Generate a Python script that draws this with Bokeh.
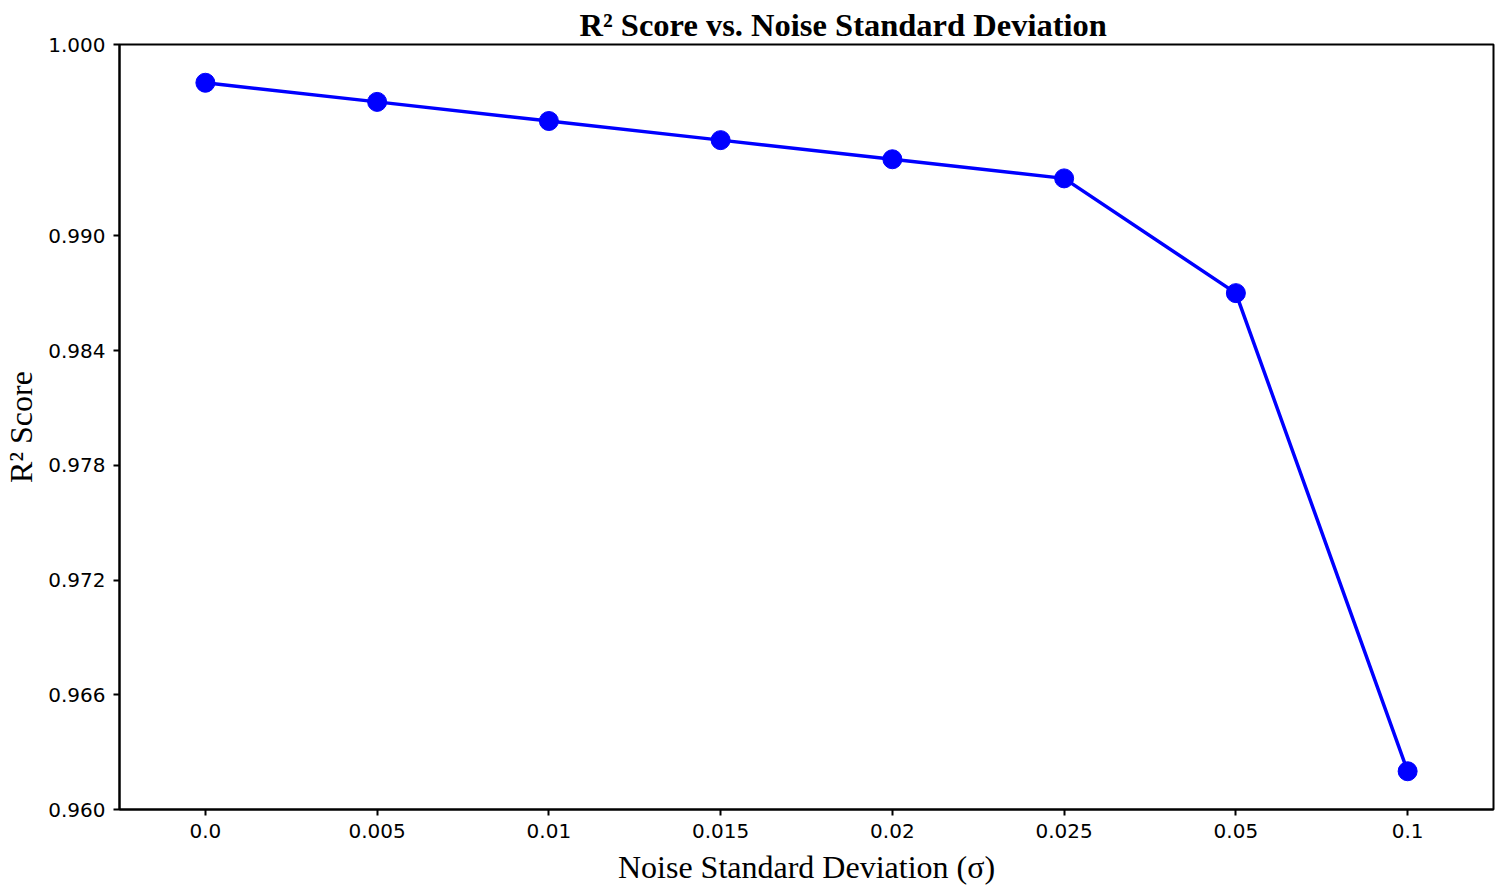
from bokeh.plotting import figure
from bokeh.models import FactorRange, Range1d, FixedTicker, PrintfTickFormatter
from bokeh.embed import file_html
from bokeh.resources import INLINE

noise_labels = ["0.0", "0.005", "0.01", "0.015", "0.02", "0.025", "0.05", "0.1"]
r2_scores = [0.998, 0.997, 0.996, 0.995, 0.994, 0.993, 0.987, 0.962]
y_ticks = [0.960, 0.966, 0.972, 0.978, 0.984, 0.990, 1.000]

p = figure(
    x_range=FactorRange(*noise_labels, range_padding=0),
    y_range=Range1d(0.960, 1.000),
    width=1498, height=889,
    min_border_left=118, min_border_right=5, min_border_top=44, min_border_bottom=80,
    output_backend="svg", toolbar_location=None,
    title="R\u00b2 Score vs. Noise Standard Deviation",
)

p.line(noise_labels, r2_scores, line_color="#0000ff", line_width=3.5)
p.scatter(noise_labels, r2_scores, size=19, fill_color="#0000ff", line_color="#0000ff")

p.title.text_font = "Liberation Serif"
p.title.text_font_size = "32.5px"
p.title.text_font_style = "bold"
p.title.text_color = "black"
p.title.align = "left"
p.title.standoff = 4
p.title.offset = 460

p.xgrid.visible = False
p.ygrid.visible = False
p.outline_line_color = "black"
p.outline_line_width = 2
p.outline_line_alpha = 1
p.background_fill_color = "white"
p.border_fill_color = "white"

p.yaxis.ticker = FixedTicker(ticks=y_ticks)
p.yaxis.formatter = PrintfTickFormatter(format="%.3f")

for ax in (p.xaxis[0], p.yaxis[0]):
    ax.axis_line_color = "black"
    ax.axis_line_width = 2
    ax.major_tick_line_color = "black"
    ax.major_tick_line_width = 2
    ax.major_tick_out = 6
    ax.major_tick_in = 0
    ax.minor_tick_line_color = None
    ax.major_label_text_font = "DejaVu Sans"
    ax.major_label_text_font_size = "20px"
    ax.major_label_text_color = "black"
    ax.major_label_standoff = 8
    ax.axis_label_text_font = "Liberation Serif"
    ax.axis_label_text_font_size = "32px"
    ax.axis_label_text_font_style = "normal"
    ax.axis_label_text_color = "black"

p.xaxis.axis_label = "Noise Standard Deviation (\u03c3)"
p.yaxis.axis_label = "R\u00b2 Score"
p.xaxis.axis_label_standoff = 8
p.yaxis.axis_label_standoff = 6

open("out.html", "w").write(file_html(p, INLINE))
